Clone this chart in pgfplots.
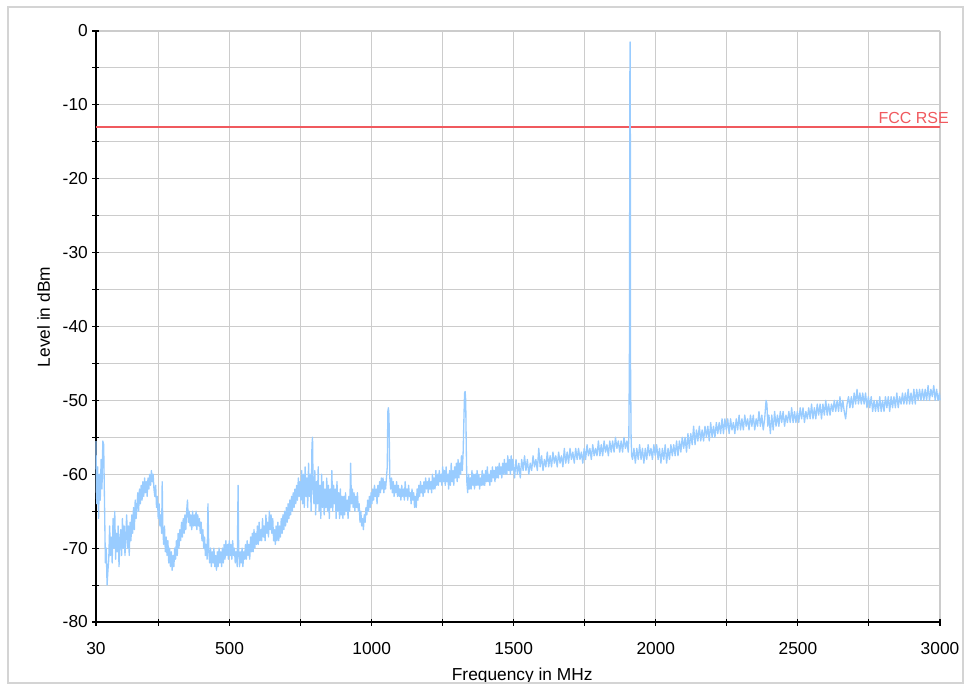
\documentclass[border=0pt]{standalone}
\usepackage{fontspec}
\setmainfont{Liberation Sans}
\usepackage{pgfplots}
\pgfplotsset{compat=1.18}
\definecolor{trace}{HTML}{99CCFF}
\definecolor{limit}{HTML}{F0595E}
\definecolor{gridc}{HTML}{CCCCCC}
\definecolor{framec}{HTML}{D4D4D4}

\begin{document}
\begin{tikzpicture}
\begin{axis}[
  scale only axis, width=633pt, height=443.25pt,
  xmin=30, xmax=3000, ymin=-80, ymax=0,
  clip=false,
  axis x line=bottom, axis y line=left,
  axis line style={-, black, line width=0.8pt},
  xtick={30,250,500,750,1000,1250,1500,1750,2000,2250,2500,2750,3000},
  xticklabels={30,,500,,1000,,1500,,2000,,2500,,3000},
  ytick={-80,-75,...,0},
  yticklabels={-80,,-70,,-60,,-50,,-40,,-30,,-20,,-10,,0},
  grid=major, grid style={gridc, line width=0.8pt},
  tick style={black, line width=0.8pt}, tick align=center, major tick length=5.25pt,
  ticklabel style={font=\fontsize{13}{15}\selectfont},
  xticklabel style={anchor=base, yshift=-21.75pt},
  yticklabel style={anchor=east},
  xlabel={Frequency in MHz},
  ylabel={Level in dBm},
  label style={font=\fontsize{13}{15}\selectfont},
  xlabel style={at={([yshift=-43.5pt]rel axis cs:0.505,0)}, anchor=base},
  ylabel style={at={([xshift=-34.5pt]rel axis cs:0,0.516)}, anchor=base},
]
\coordinate (O) at (rel axis cs:0,0);
\addplot[limit, line width=1.2pt] coordinates {(30,-13) (3000,-13)};
\node[anchor=base east, text=limit, font=\fontsize{12}{14}\selectfont, inner sep=0pt,
  xshift=6.75pt, yshift=3pt] at (axis cs:3000,-13) {FCC RSE};
\addplot[trace, line width=1pt, line join=round] coordinates {
(30,-55.5) (31,-62) (33,-64) (36,-59) (39,-66) (42,-60) (45,-63.5) (48,-58) (51,-62) (54,-55.5) (57,-56) (60,-64) (63,-72) (66,-70) (69,-75) (72,-73) (75,-71.5)
(78,-67) (81,-71) (84,-68.5) (87,-72) (90,-66) (93,-70) (96,-65) (99,-71.5) (102,-68) (105,-70.5) (108,-67) (111,-72.5) (114,-69) (117,-67.5) (120,-71) (123,-66) (126,-70) (129,-67) (132,-71) (135,-68) (138,-65.5) (141,-70) (144,-67) (147,-71) (150,-66.5)
(153,-69) (156,-65.5) (159,-68) (162,-64.5) (165,-67.5) (168,-63.5) (171,-66) (174,-64.5) (177,-62.5) (180,-65) (183,-62) (186,-64) (189,-61.5) (192,-63.5) (195,-61) (198,-63) (201,-60.5) (204,-62.5) (207,-61) (210,-63) (213,-60.5) (216,-62) (219,-60) (222,-61.5) (225,-59.5) (228,-61) (231,-60) (234,-62)
(237,-63) (240,-61.5) (243,-64.5) (246,-63) (249,-66) (252,-64) (255,-67) (258,-65.5) (261,-68) (263,-61) (265,-67) (268,-69.5) (271,-67) (274,-70.5) (277,-68.5) (280,-71) (283,-69) (286,-72) (289,-70) (292,-72.5) (295,-70.5) (298,-73) (301,-71) (304,-72.5)
(307,-70) (310,-71.5) (313,-69) (316,-71) (319,-68) (322,-70) (325,-67.5) (328,-69) (331,-66.5) (334,-68.5) (337,-66) (340,-68) (343,-65.5) (346,-67.5) (349,-65) (352,-63.5) (355,-66.5) (358,-65) (361,-67) (364,-65.5) (367,-67.5) (370,-65) (373,-67) (376,-65.5) (379,-67) (382,-65) (385,-67.5) (388,-65.5) (391,-67) (394,-66) (397,-68) (400,-66.5)
(403,-69) (406,-67.5) (409,-70) (412,-68.5) (415,-71) (418,-69.5) (421,-71.5) (424,-64) (427,-70.5) (430,-72) (433,-70) (436,-72.5) (439,-70.5) (442,-72) (445,-70) (448,-72.5) (451,-71) (454,-73) (457,-70.5) (460,-72.5) (463,-70) (466,-72) (469,-70.5) (472,-72.5) (475,-70) (478,-72) (481,-69.5) (484,-71.5) (487,-69) (490,-71) (493,-69.5) (496,-71.5) (499,-69) (502,-71)
(505,-69.5) (508,-71.5) (511,-69) (514,-71) (517,-70) (520,-72) (523,-70.5) (527,-72.5) (530,-61.5) (532,-70) (535,-72.5) (538,-70.5) (541,-72) (544,-70) (547,-72.5) (550,-70.5) (553,-71.5) (556,-69.5) (559,-71.5) (562,-69) (565,-71) (568,-69.5) (571,-71.5) (574,-68.5) (577,-70.5) (580,-68) (583,-70.5) (586,-67.5) (589,-70) (592,-68) (595,-69.5) (598,-67) (601,-69.5) (604,-66.5) (607,-69) (610,-67.5) (613,-69) (616,-66) (619,-68.5) (622,-67) (625,-69) (628,-65.5) (631,-68) (634,-66.5) (637,-68.5) (640,-65) (643,-67.5) (646,-65.5) (649,-68) (652,-66) (655,-69) (658,-67.5) (661,-69.5) (664,-67) (667,-69) (670,-66.5) (673,-69) (676,-67) (679,-68.5) (682,-66) (685,-68) (688,-65.5) (691,-67.5) (694,-65) (697,-67) (700,-64.5) (703,-66.5) (706,-64) (709,-66) (712,-63.5) (715,-65.5) (718,-63) (721,-65) (724,-62.5) (727,-64.5) (730,-62) (733,-64) (736,-61.5) (739,-63.5) (742,-60.5) (745,-63) (748,-61)
(751,-63.5) (754,-59.5) (757,-64) (760,-60) (763,-64.5) (766,-59) (769,-63) (772,-60.5) (775,-64.5) (778,-58.5) (781,-63) (784,-60) (787,-65) (790,-56) (792,-55) (794,-62) (797,-64) (800,-59.5) (803,-65.5) (806,-61) (809,-64) (812,-59) (815,-65) (818,-61.5) (821,-66) (824,-60) (827,-64.5) (830,-61) (833,-65.5) (836,-62) (839,-64.5) (842,-60.5) (845,-65) (848,-61.5) (851,-66) (854,-62) (857,-64.5) (860,-59.5) (863,-65) (866,-61.5) (869,-64) (872,-62) (875,-66) (878,-61) (881,-65) (884,-62.5) (887,-66) (890,-62) (893,-65.5) (896,-63)
(899,-66) (902,-63) (905,-65.5) (908,-62.5) (911,-65) (914,-63.5) (917,-66) (920,-63) (923,-65) (926,-58.5) (929,-64) (932,-62) (935,-64.5) (938,-62.5) (941,-65) (944,-63) (947,-64.5) (950,-62.5) (953,-65) (956,-64) (959,-66.5) (962,-65) (965,-67) (968,-66) (971,-67.5) (974,-65.5) (977,-66.5) (980,-64.5) (983,-65.5) (986,-63.5) (989,-65) (992,-63) (995,-64.5) (998,-62.5)
(1001,-64) (1004,-62) (1007,-63.5) (1010,-61.5) (1013,-63) (1016,-62) (1019,-64) (1022,-61.5) (1025,-63) (1028,-61) (1031,-62.5) (1034,-60.5) (1037,-62) (1040,-60.5) (1043,-62.5) (1046,-61) (1049,-62) (1052,-60.5) (1055,-59) (1057,-51.5) (1059,-51) (1061,-52) (1062,-55) (1064,-60.5) (1067,-62) (1070,-60.5) (1073,-62.5) (1076,-61) (1079,-63) (1082,-61.5) (1085,-62.5) (1088,-61) (1091,-63) (1094,-61.5) (1097,-63) (1100,-62) (1103,-63.5) (1106,-61.5) (1109,-63) (1112,-62) (1115,-63.5) (1118,-61) (1121,-63) (1124,-62) (1127,-63.5) (1130,-61.5) (1133,-63) (1136,-62.5) (1139,-64) (1142,-62) (1145,-63.5) (1148,-62.5) (1151,-64.5) (1154,-63) (1157,-64.5) (1160,-62) (1163,-63.5) (1166,-61.5) (1169,-63) (1172,-61) (1175,-62.5) (1178,-61.5) (1181,-63) (1184,-61) (1187,-62.5) (1190,-60.5) (1193,-62) (1196,-61) (1199,-62.5) (1202,-60.5) (1205,-62) (1208,-61) (1211,-62.5) (1214,-60) (1217,-62) (1220,-60.5) (1223,-62) (1226,-59.5) (1229,-61.5) (1232,-60) (1235,-61.5) (1238,-59.5) (1241,-61) (1244,-60) (1247,-61.5) (1250,-59)
(1253,-61) (1256,-59.5) (1259,-61.5) (1262,-59) (1265,-61) (1268,-60) (1271,-62) (1274,-59.5) (1277,-61.5) (1280,-58.5) (1283,-61) (1286,-59.5) (1289,-61.5) (1292,-59) (1295,-60.5) (1298,-58.5) (1301,-61) (1304,-58) (1307,-60.5) (1310,-58.5) (1313,-60) (1316,-57.5) (1319,-59.5) (1322,-57) (1325,-52) (1327,-49) (1329,-48.8) (1331,-50) (1333,-56.5) (1335,-61) (1338,-62.5) (1341,-60) (1344,-62) (1347,-60.5) (1350,-62) (1353,-59.5) (1356,-61.5) (1359,-60) (1362,-62) (1365,-60) (1368,-61.5) (1371,-59.5) (1374,-61.5) (1377,-60) (1380,-62) (1383,-60.5) (1386,-61.5) (1389,-59.5) (1392,-61.5) (1395,-60) (1398,-61.5) (1401,-59.5) (1404,-61) (1407,-59) (1410,-61) (1413,-60) (1416,-61.5) (1419,-59.5) (1422,-61) (1425,-59) (1428,-60.5) (1431,-59.5) (1434,-61) (1437,-59) (1440,-60.5) (1443,-59) (1446,-60.5) (1449,-58.5) (1452,-60) (1455,-59) (1458,-60.5) (1461,-58.5) (1464,-60) (1467,-58) (1470,-60) (1473,-58.5) (1476,-60) (1479,-57.5) (1482,-59.5) (1485,-58) (1488,-60) (1491,-57.5) (1494,-59.5) (1497,-58)
(1503,-60.5) (1508,-58) (1513,-60) (1518,-58.5) (1523,-60.5) (1528,-58) (1533,-59.5) (1538,-57.5) (1543,-59.5) (1548,-58) (1553,-60) (1558,-58.5) (1563,-59.5) (1568,-57.5) (1573,-59) (1578,-58) (1583,-59.5) (1588,-56.5) (1593,-59) (1598,-57.5) (1603,-59.5) (1608,-58) (1613,-59) (1618,-57) (1623,-59) (1628,-57.5) (1633,-59) (1638,-57) (1643,-58.5) (1648,-57.5) (1653,-59) (1658,-57) (1663,-58.5) (1668,-57.5) (1673,-59) (1678,-56.5) (1683,-58.5) (1688,-57) (1693,-58.5) (1698,-56.5) (1703,-58) (1708,-57) (1713,-58.5) (1718,-56.5) (1723,-58) (1728,-56.5) (1733,-58) (1738,-57) (1743,-58.5) (1748,-56.5) (1753,-58) (1758,-56) (1763,-57.5) (1768,-56.5) (1773,-58) (1778,-56) (1783,-57.5) (1788,-56.5) (1793,-57.5) (1798,-55.5) (1803,-57.5) (1808,-56) (1813,-57.5) (1818,-55.5) (1823,-57) (1828,-56) (1833,-57.5) (1838,-55.5) (1843,-57) (1848,-55.5) (1853,-57) (1858,-55) (1863,-56.5) (1868,-55.5) (1873,-57) (1878,-55.5) (1883,-57) (1888,-55) (1893,-56.5) (1898,-55.5) (1903,-57)
(1905,-55) (1907,-45) (1909,-1.5) (1910,-1.5) (1911,-45) (1913,-55) (1915,-57.5)
(1918,-58) (1923,-56.5) (1928,-58.5) (1933,-56.5) (1938,-58) (1943,-56) (1948,-58) (1953,-56.5) (1958,-58.5) (1963,-56.5) (1968,-58) (1973,-56) (1978,-57.5) (1983,-56.5) (1988,-58) (1993,-56) (1998,-57.5)
(2003,-56) (2008,-58) (2013,-56.5) (2018,-58.5) (2023,-56.5) (2028,-58) (2033,-56) (2038,-58.5) (2043,-56.5) (2048,-58) (2053,-56) (2058,-57.5) (2063,-56) (2068,-57.5) (2073,-55.5) (2078,-57.5) (2083,-55.5) (2088,-57) (2093,-55) (2098,-56.5) (2103,-55) (2108,-57) (2113,-54.5) (2118,-56.5) (2123,-54.5) (2128,-56) (2133,-53.5) (2138,-56) (2143,-54) (2148,-55.5) (2153,-53.5) (2158,-55.5) (2163,-54) (2168,-55.5) (2173,-53.5) (2178,-55) (2183,-53.5) (2188,-55.5) (2193,-53) (2198,-55) (2203,-53.5) (2208,-55) (2213,-53) (2218,-54.5) (2223,-53) (2228,-54.5) (2233,-52.5) (2238,-54.5) (2243,-52.5) (2248,-54) (2253,-52.5) (2258,-54.5) (2263,-52.5) (2268,-54) (2273,-53) (2278,-54.5) (2283,-52.5) (2288,-54) (2293,-52) (2298,-54) (2303,-52.5) (2308,-54) (2313,-52) (2318,-53.5) (2323,-52.5) (2328,-54) (2333,-52) (2338,-53.5) (2343,-52) (2348,-54) (2353,-52.5) (2358,-53.5) (2363,-51.5) (2368,-53.5) (2373,-52) (2378,-54) (2383,-52.5) (2388,-50) (2391,-50.5) (2394,-53.5) (2398,-52) (2403,-54.5) (2408,-52) (2413,-54) (2418,-51.5) (2423,-53.5) (2428,-52) (2433,-53.5) (2438,-51.5) (2443,-53) (2448,-51.5) (2453,-53.5) (2458,-52) (2463,-53) (2468,-51.5) (2473,-53) (2478,-51) (2483,-53) (2488,-51.5) (2493,-53) (2498,-51.5)
(2503,-53) (2508,-51) (2513,-52.5) (2518,-51) (2523,-53) (2528,-51.5) (2533,-52.5) (2538,-51) (2543,-52.5) (2548,-50.5) (2553,-52.5) (2558,-51) (2563,-52.5) (2568,-50.5) (2573,-52) (2578,-50.5) (2583,-52.5) (2588,-50.5) (2593,-52) (2598,-50) (2603,-52) (2608,-50.5) (2613,-52) (2618,-50.5) (2623,-51.5) (2628,-50) (2633,-51.5) (2638,-50) (2643,-51.5) (2648,-49.5) (2653,-51.5) (2658,-50) (2663,-51.5) (2668,-52.5) (2673,-50.5) (2678,-49.5) (2683,-51) (2688,-49.5) (2693,-51) (2698,-49) (2703,-50.5) (2708,-48.5) (2713,-50.5) (2718,-49) (2723,-50.5) (2728,-49) (2733,-50.5) (2738,-49) (2743,-51) (2748,-49.5) (2753,-51) (2758,-49.5) (2763,-51.5) (2768,-50) (2773,-51.5) (2778,-50) (2783,-51.5) (2788,-49.5) (2793,-51.5) (2798,-50) (2803,-51.5) (2808,-49.5) (2813,-51) (2818,-49.5) (2823,-51.5) (2828,-49.5) (2833,-51) (2838,-49.5) (2843,-51) (2848,-49) (2853,-51) (2858,-49.5) (2863,-50.5) (2868,-49) (2873,-50.5) (2878,-49) (2883,-50.5) (2888,-48.5) (2893,-50.5) (2898,-49) (2903,-50.5) (2908,-48.5) (2913,-50.5) (2918,-48.5) (2923,-50) (2928,-48.5) (2933,-50) (2938,-48.5) (2943,-50) (2948,-48.5) (2953,-50) (2958,-48) (2963,-50) (2968,-48.5) (2973,-49.5) (2978,-48) (2983,-50) (2988,-48.5) (2993,-50) (2998,-49) (3000,-50)
};
\end{axis}
\draw[framec, line width=1pt] ([shift={(-66pt,-45.75pt)}]O) rectangle ([shift={(650.25pt,461.25pt)}]O);
\pgfresetboundingbox
\path[use as bounding box] ([shift={(-72pt,-48pt)}]O) rectangle ([shift={(651.75pt,466.5pt)}]O);
\end{tikzpicture}
\end{document}
